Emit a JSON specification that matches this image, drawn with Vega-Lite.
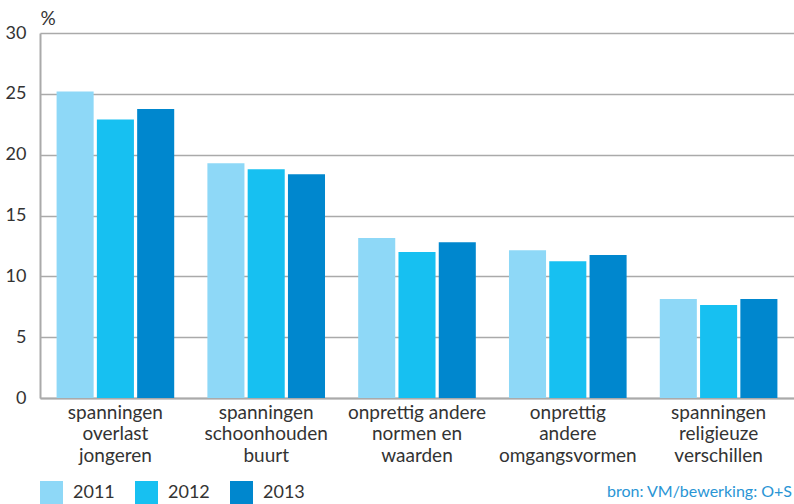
{
  "$schema": "https://vega.github.io/schema/vega-lite/v6.json",
  "width": 754,
  "height": 365,
  "autosize": {"type": "none"},
  "padding": {"left": 40, "top": 33, "right": 0, "bottom": 106},
  "background": "white",
  "config": {
    "font": "Lato",
    "view": {"stroke": null},
    "axis": {"labelFont": "Lato", "titleFont": "Lato"}
  },
  "title": {
    "text": "bron: VM/bewerking: O+S",
    "orient": "bottom",
    "anchor": "end",
    "frame": "group",
    "dx": -2,
    "offset": -20,
    "fontSize": 16,
    "fontWeight": "normal",
    "color": "#2a95d5",
    "font": "Lato"
  },
  "data": {
    "values": [
      {"cat": "spanningen|overlast|jongeren", "year": "2011", "value": 25.2},
      {"cat": "spanningen|overlast|jongeren", "year": "2012", "value": 22.9},
      {"cat": "spanningen|overlast|jongeren", "year": "2013", "value": 23.75},
      {"cat": "spanningen|schoonhouden|buurt", "year": "2011", "value": 19.3},
      {"cat": "spanningen|schoonhouden|buurt", "year": "2012", "value": 18.8},
      {"cat": "spanningen|schoonhouden|buurt", "year": "2013", "value": 18.4},
      {"cat": "onprettig andere|normen en|waarden", "year": "2011", "value": 13.15},
      {"cat": "onprettig andere|normen en|waarden", "year": "2012", "value": 12.0},
      {"cat": "onprettig andere|normen en|waarden", "year": "2013", "value": 12.8},
      {"cat": "onprettig|andere|omgangsvormen", "year": "2011", "value": 12.15},
      {"cat": "onprettig|andere|omgangsvormen", "year": "2012", "value": 11.25},
      {"cat": "onprettig|andere|omgangsvormen", "year": "2013", "value": 11.75},
      {"cat": "spanningen|religieuze|verschillen", "year": "2011", "value": 8.13},
      {"cat": "spanningen|religieuze|verschillen", "year": "2012", "value": 7.64},
      {"cat": "spanningen|religieuze|verschillen", "year": "2013", "value": 8.13}
    ]
  },
  "mark": {"type": "bar"},
  "encoding": {
    "x": {
      "field": "cat",
      "type": "nominal",
      "sort": null,
      "scale": {"paddingInner": 0.22, "paddingOuter": 0.11},
      "axis": {
        "title": null,
        "labelAngle": 0,
        "labelExpr": "split(datum.label, '|')",
        "labelFontSize": 19,
        "labelColor": "#333333",
        "labelLineHeight": 21.5,
        "labelPadding": 5,
        "labelBaseline": "top",
        "ticks": false,
        "domainColor": "#aaaaaa",
        "domainWidth": 2,
        "labelLimit": 300
      }
    },
    "xOffset": {
      "field": "year",
      "type": "nominal",
      "scale": {"paddingInner": 0.08}
    },
    "y": {
      "field": "value",
      "type": "quantitative",
      "scale": {"domain": [0, 30]},
      "axis": {
        "values": [0, 5, 10, 15, 20, 25, 30],
        "title": "%",
        "titleAngle": 0,
        "titleX": 0,
        "titleY": -5,
        "titleAlign": "left",
        "titleBaseline": "bottom",
        "titleFontSize": 19,
        "titleFontWeight": "normal",
        "titleColor": "#333333",
        "labelFontSize": 18,
        "labelColor": "#333333",
        "labelPadding": 14,
        "ticks": false,
        "domainColor": "#aaaaaa",
        "domainWidth": 2,
        "grid": true,
        "gridColor": "#aaaaaa",
        "gridWidth": 1.5
      }
    },
    "color": {
      "field": "year",
      "type": "nominal",
      "scale": {"domain": ["2011", "2012", "2013"], "range": ["#8ed8f7", "#17c0f1", "#0087ce"]},
      "legend": {
        "title": null,
        "orient": "none",
        "direction": "horizontal",
        "legendX": 0,
        "legendY": 448,
        "symbolType": "square",
        "symbolSize": 529,
        "symbolStrokeWidth": 0,
        "symbolOpacity": 1,
        "labelFontSize": 18,
        "labelColor": "#333333",
        "labelOffset": 10,
        "columnPadding": 20
      }
    }
  }
}
